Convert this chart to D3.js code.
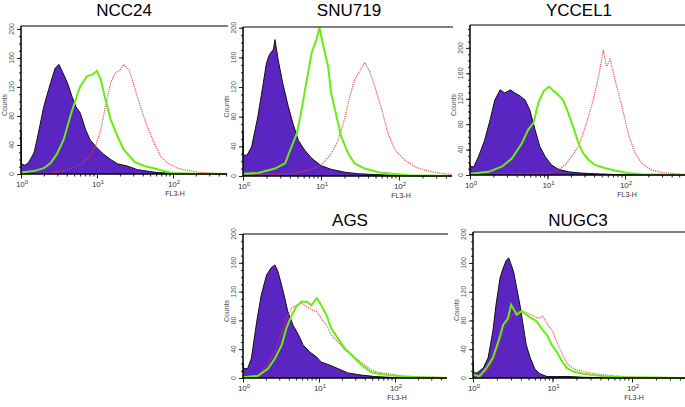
<!DOCTYPE html>
<html>
<head>
<meta charset="utf-8">
<script src="https://cdn.jsdelivr.net/npm/d3@7/dist/d3.min.js"></script>
<style>
  html, body { margin: 0; padding: 0; background: #fff; }
  svg { display: block; }
</style>
</head>
<body>
<svg id="chart" width="685" height="407"></svg>
<script>
// ---------------- DATA (x = log10 of FL3-H, y = counts) ----------------
const cellLines = ["NCC24", "SNU719", "YCCEL1", "AGS", "NUGC3"];
const yTicks = [0, 40, 80, 120, 160, 200];
const xTickDecades = [0, 1, 2];
const seriesNames = ["isotype", "antibodyA", "antibodyB"];

const ncc24Iso = [[0,60],[0.005,14],[0.05,12],[0.1,16],[0.17,29],[0.21,47],[0.3,93],[0.39,126],[0.45,146],[0.5,151],[0.54,142],[0.61,126],[0.67,107],[0.72,93],[0.78,84],[0.85,61],[0.91,47],[1.0,36],[1.09,27],[1.18,20],[1.27,14],[1.4,11],[1.53,6],[1.66,4],[1.79,2],[2.0,1],[2.3,0.5],[2.71,0]];
const ncc24Green = [[0,2],[0.17,4],[0.3,8],[0.39,15],[0.47,27],[0.56,47],[0.65,80],[0.72,103],[0.78,121],[0.87,135],[0.94,137],[1.0,142],[1.05,130],[1.11,103],[1.18,75],[1.27,52],[1.35,34],[1.49,17],[1.62,11],[1.75,8],[1.88,4],[2.01,1],[2.3,0.5],[2.71,0]];
const ncc24Red = [[0,0.5],[0.39,1],[0.61,6],[0.78,13],[0.91,24],[0.98,38],[1.05,61],[1.11,93],[1.18,126],[1.24,139],[1.31,144],[1.35,151],[1.42,144],[1.49,121],[1.57,93],[1.66,66],[1.75,43],[1.84,24],[1.93,15],[2.06,8],[2.19,5],[2.36,2],[2.58,1],[2.71,0.5]];

const snu719Iso = [[0,62],[0.005,28],[0.05,28],[0.11,39],[0.19,80],[0.26,125],[0.3,152],[0.34,164],[0.39,171],[0.41,184],[0.45,157],[0.51,125],[0.58,94],[0.64,71],[0.71,48],[0.79,35],[0.88,24],[1.0,14],[1.13,9],[1.31,5],[1.48,3],[1.69,2],[2.0,0.5],[2.68,0]];
const snu719Green = [[0,3],[0.19,4],[0.41,10],[0.54,17],[0.62,39],[0.69,57],[0.75,89],[0.81,125],[0.88,166],[0.94,184],[0.98,200],[1.02,180],[1.09,148],[1.13,112],[1.2,80],[1.26,53],[1.35,30],[1.43,17],[1.56,10],[1.73,5],[1.91,3],[2.12,1],[2.68,0]];
const snu719Red = [[0,2],[0.62,3],[0.84,8],[1.0,14],[1.13,30],[1.22,48],[1.31,80],[1.37,107],[1.43,130],[1.5,142],[1.56,153],[1.62,142],[1.69,121],[1.78,89],[1.86,57],[1.95,35],[2.08,21],[2.21,12],[2.33,8],[2.51,4],[2.68,2]];

const yccel1Iso = [[0,18],[0.005,13],[0.05,13],[0.11,29],[0.19,55],[0.26,87],[0.32,118],[0.39,134],[0.45,129],[0.52,134],[0.58,129],[0.65,124],[0.71,118],[0.77,103],[0.84,71],[0.9,45],[0.97,29],[1.05,16],[1.14,9],[1.27,5],[1.44,3],[1.61,2],[1.9,0.5],[2.77,0]];
const yccel1Green = [[0,2],[0.24,5],[0.41,13],[0.54,26],[0.67,50],[0.75,71],[0.82,82],[0.88,113],[0.95,132],[1.02,139],[1.08,132],[1.14,126],[1.2,118],[1.27,97],[1.33,76],[1.4,50],[1.46,34],[1.53,24],[1.61,16],[1.74,11],[1.87,7],[2.04,3],[2.22,1],[2.77,0]];
const yccel1Red = [[0,1],[1.0,3],[1.14,8],[1.23,16],[1.31,29],[1.4,45],[1.46,66],[1.53,92],[1.59,118],[1.66,155],[1.72,197],[1.76,171],[1.81,182],[1.87,150],[1.96,108],[2.04,66],[2.13,34],[2.22,18],[2.34,8],[2.47,4],[2.65,2],[2.77,1]];

const agsIso = [[0,22],[0.01,13],[0.06,13],[0.11,27],[0.18,78],[0.24,115],[0.31,143],[0.37,153],[0.42,157],[0.46,148],[0.53,120],[0.59,92],[0.66,73],[0.73,60],[0.79,46],[0.88,36],[0.97,29],[1.03,22],[1.14,18],[1.25,13],[1.38,7],[1.56,4],[1.74,2],[2.0,0.5],[2.68,0]];
const agsGreen = [[0,1],[0.2,3],[0.33,13],[0.42,27],[0.51,46],[0.57,69],[0.64,87],[0.7,99],[0.77,106],[0.84,106],[0.9,101],[0.97,111],[1.03,101],[1.1,87],[1.16,69],[1.25,55],[1.34,41],[1.43,32],[1.52,22],[1.6,15],[1.69,8],[1.78,6],[1.91,4],[2.09,2],[2.26,1],[2.68,0]];
const agsRed = [[0,1],[0.2,4],[0.33,20],[0.42,36],[0.51,64],[0.57,83],[0.64,97],[0.7,101],[0.77,104],[0.84,99],[0.9,95],[0.97,92],[1.03,83],[1.1,73],[1.16,60],[1.25,50],[1.34,39],[1.43,32],[1.52,25],[1.6,18],[1.69,11],[1.78,8],[1.91,6],[2.09,3],[2.26,2],[2.68,0.5]];

const nugc3Iso = [[0,23],[0.01,7],[0.05,7],[0.13,14],[0.19,28],[0.25,65],[0.29,102],[0.34,139],[0.38,153],[0.42,164],[0.45,167],[0.51,148],[0.55,125],[0.59,102],[0.63,74],[0.67,46],[0.72,28],[0.78,12],[0.84,6],[0.93,2],[1.05,2],[1.22,2],[1.39,1],[1.7,0.5],[2.67,0]];
const nugc3Green = [[0,5],[0.08,2],[0.17,14],[0.25,28],[0.32,51],[0.38,74],[0.44,83],[0.48,102],[0.55,88],[0.61,93],[0.67,88],[0.74,83],[0.8,79],[0.86,69],[0.93,60],[0.99,46],[1.05,37],[1.12,23],[1.18,14],[1.26,9],[1.39,6],[1.52,4],[1.68,2],[1.89,1],[2.67,0]];
const nugc3Red = [[0,2],[0.17,9],[0.25,23],[0.32,46],[0.38,65],[0.44,79],[0.5,88],[0.57,93],[0.63,93],[0.69,90],[0.76,86],[0.82,83],[0.88,86],[0.94,74],[1.0,65],[1.07,46],[1.13,32],[1.19,19],[1.28,12],[1.39,9],[1.52,6],[1.68,4],[1.89,2],[2.14,1],[2.67,0.5]];

const yMaxCounts = [204, 201, 236, 200, 203];

// ---------------- LAYOUT ----------------
const panelData = [
  [ncc24Iso, ncc24Green, ncc24Red],
  [snu719Iso, snu719Green, snu719Red],
  [yccel1Iso, yccel1Green, yccel1Red],
  [agsIso, agsGreen, agsRed],
  [nugc3Iso, nugc3Green, nugc3Red]
];
const frames = [
  {x0: 21,  dec: 76,   x1: 227, top: 26,  base: 174, lineEnd: 228, titleX: 124, titleY: 16},
  {x0: 243, dec: 78,   x1: 452, top: 27,  base: 176, lineEnd: 453, titleX: 349, titleY: 16},
  {x0: 470, dec: 77.5, x1: 685, top: 25,  base: 175, lineEnd: 685, titleX: 579, titleY: 16},
  {x0: 243, dec: 76,   x1: 447, top: 234, base: 378, lineEnd: 448, titleX: 350, titleY: 226},
  {x0: 473, dec: 79.5, x1: 685, top: 232, base: 378, lineEnd: 685, titleX: 578, titleY: 226}
];

const svg = d3.select("#chart");
const isoFill = "#5b25c2", green = "#66ee11", red = "#e8383a";
const tickFont = "Liberation Sans, Arial, sans-serif";

frames.forEach((f, i) => {
  const g = svg.append("g");
  const logMax = (f.x1 - f.x0) / f.dec;
  const x = d3.scaleLog().domain([1, Math.pow(10, logMax)]).range([f.x0, f.x1]);
  const y = d3.scaleLinear().domain([0, yMaxCounts[i]]).range([f.base, f.top]);
  const px = d => x(Math.pow(10, d[0]));

  const [iso, gr, rd] = panelData[i];

  const area = d3.area().x(px).y0(f.base).y1(d => y(d[1])).curve(d3.curveLinear);
  const line = d3.line().x(px).y(d => y(d[1])).curve(d3.curveLinear);
  g.append("path").datum(iso).attr("d", area).attr("fill", isoFill);
  g.append("path").datum(iso).attr("d", line).attr("fill", "none")
    .attr("stroke", "#111").attr("stroke-width", 1);

  g.append("path").datum(rd).attr("d", line).attr("fill", "none")
    .attr("stroke", red).attr("stroke-width", 1.2).attr("stroke-dasharray", "1.2,1")
    .attr("opacity", 0.85);
  g.append("path").datum(gr).attr("d", line).attr("fill", "none")
    .attr("stroke", green).attr("stroke-width", 2);

  g.append("line").attr("x1", f.x0).attr("x2", f.lineEnd).attr("y1", f.top).attr("y2", f.top)
    .attr("stroke", "#555").attr("stroke-width", 1.5);

  const yMinor = d3.range(0, yMaxCounts[i] + 0.01, 10);
  const yAx = g.append("g").attr("transform", `translate(${f.x0},0)`);
  yAx.call(d3.axisLeft(y).tickValues(yMinor).tickSize(2).tickFormat(""))
    .call(s => s.select(".domain").remove());
  yAx.append("g").call(d3.axisLeft(y).tickValues(yTicks).tickSize(4).tickFormat(""))
    .call(s => s.select(".domain").remove());
  yAx.selectAll("line").attr("stroke", "#222");
  yAx.append("line").attr("x1", 0).attr("x2", 0).attr("y1", f.top).attr("y2", f.base)
    .attr("stroke", "#000").attr("stroke-width", 1.5);
  yTicks.forEach(t => {
    yAx.append("text").attr("transform", `translate(-9,${y(t)}) rotate(-90)`)
      .attr("text-anchor", "middle").attr("dy", "0.35em")
      .attr("font-family", tickFont).attr("font-size", 7).attr("fill", "#555")
      .text(t);
  });
  g.append("text").attr("transform", `translate(${f.x0 - 16},${(f.top + f.base) / 2 + 5}) rotate(-90)`)
    .attr("text-anchor", "middle").attr("dy", "0.35em")
    .attr("font-family", tickFont).attr("font-size", 7).attr("fill", "#555")
    .text("Counts");

  const minorVals = [];
  for (let dcd = 0; dcd < 3; dcd++) for (let m = 1; m <= 9; m++) {
    const v = m * Math.pow(10, dcd);
    if (v <= x.domain()[1]) minorVals.push(v);
  }
  const xAx = g.append("g").attr("transform", `translate(0,${f.base})`);
  xAx.call(d3.axisBottom(x).tickValues(minorVals).tickSize(2.5).tickFormat(""))
    .call(s => s.select(".domain").remove());
  xAx.append("g").call(d3.axisBottom(x).tickValues(xTickDecades.map(d => Math.pow(10, d))).tickSize(4.5).tickFormat(""))
    .call(s => s.select(".domain").remove());
  xAx.selectAll("line").attr("stroke", "#222");
  xAx.append("line").attr("x1", f.x0).attr("x2", f.x1).attr("y1", 0).attr("y2", 0)
    .attr("stroke", "#000").attr("stroke-width", 1.5);
  xTickDecades.forEach(d => {
    const t = xAx.append("text").attr("x", x(Math.pow(10, d)) + 1).attr("y", 13)
      .attr("text-anchor", "middle")
      .attr("font-family", tickFont).attr("font-size", 8).attr("fill", "#333");
    t.append("tspan").text("10");
    t.append("tspan").attr("dy", -3).attr("font-size", 6).text(d);
  });
  xAx.append("text").attr("x", x(100) + 2).attr("y", 22).attr("text-anchor", "middle")
    .attr("font-family", tickFont).attr("font-size", 7).attr("fill", "#333").text("FL3-H");

  g.append("text").attr("x", f.titleX).attr("y", f.titleY).attr("text-anchor", "middle")
    .attr("font-family", "Liberation Sans, Arial, sans-serif").attr("font-size", 17)
    .attr("fill", "#000").text(cellLines[i]);
});
</script>
</body>
</html>
